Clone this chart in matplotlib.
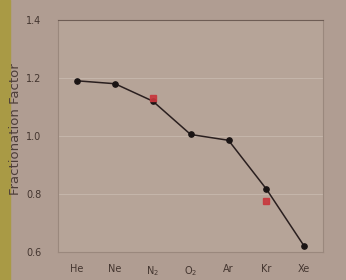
import numpy as np
import matplotlib.pyplot as plt

# Datos
gases = ["He", "Ne", "N$_2$", "O$_2$", "Ar", "Kr", "Xe"]
factor = [1.19, 1.18, 1.12, 1.005, 0.985, 0.817, 0.62]

# puntos rojos (otras medidas)
red_gas = ["N$_2$", "Kr"]
red_val = [1.13, 0.776]

paper = "#b09d92"
ink = "#43352f"

fig = plt.figure(figsize=(3.46, 2.8), dpi=100, facecolor=paper)
# borde amarillo de la foto
fig.patches.append(plt.Rectangle((0, 0), 0.03, 1, transform=fig.transFigure,
                                 color="#a99a45", zorder=-5))
ax = fig.add_axes([0.168, 0.10, 0.766, 0.829])
ax.set_facecolor("#b6a498")

x = np.arange(len(gases))
ax.plot(x, factor, "-", color="#2a1f1f", lw=1.1, zorder=3)
ax.plot(x, factor, "o", color="#1a1414", ms=3.8, zorder=4)
xr = [gases.index(g) for g in red_gas]
ax.plot(xr, red_val, "s", color="#c8363c", ms=4.5, alpha=0.9, zorder=5)

ax.set_xlim(-0.5, 6.5)
ax.set_ylim(0.6, 1.4)
ax.set_xticks(x)
ax.set_xticklabels(gases)
ax.set_yticks([0.6, 0.8, 1.0, 1.2, 1.4])
ax.tick_params(colors=ink, labelsize=7, length=0)
ax.tick_params(axis="x", pad=9)
ax.tick_params(axis="y", pad=12)
ax.grid(axis="y", color="#c4b5aa", lw=0.8)
for s in ax.spines.values():
    s.set_color("#9a887d")
    s.set_linewidth(0.8)
ax.spines["top"].set_color("#6e5d55")
fig.text(0.045, 0.54, "Fractionation Factor", rotation=90, fontsize=9.5,
         color="#4e3f39", ha="center", va="center")

plt.savefig("out.png", dpi=100, facecolor=fig.get_facecolor())
